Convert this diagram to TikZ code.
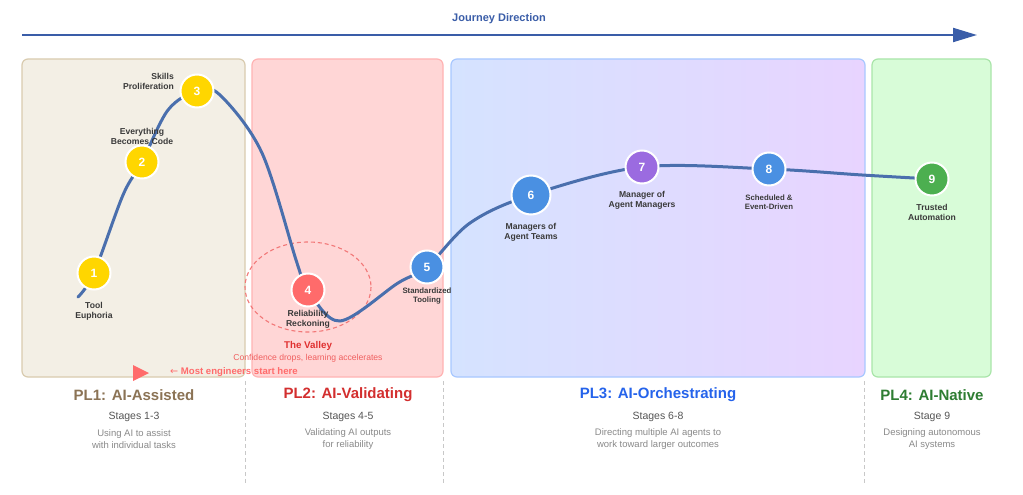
\documentclass[tikz,border=0pt]{standalone}
\usepackage{fontspec}
\setmainfont{Liberation Sans}
\newfontfamily\arrowfont{DejaVu Sans}
\usetikzlibrary{arrows.meta}

\definecolor{journeyblue}{HTML}{3A5DA8}
\definecolor{curveblue}{HTML}{4A6FAD}
\definecolor{boxone}{HTML}{F3EFE5}
\definecolor{boxoneline}{HTML}{D9CBAF}
\definecolor{boxtwo}{HTML}{FFD6D6}
\definecolor{boxtwoline}{HTML}{FFB3B3}
\definecolor{boxthreeleft}{HTML}{D5E3FF}
\definecolor{boxthreeright}{HTML}{E8D4FF}
\definecolor{boxthreeline}{HTML}{A8C8FF}
\definecolor{boxfour}{HTML}{D8FCD8}
\definecolor{boxfourline}{HTML}{A9E5A9}
\definecolor{stageyellow}{HTML}{FFD600}
\definecolor{stagered}{HTML}{FF6B6B}
\definecolor{stageblue}{HTML}{4A90E2}
\definecolor{stagepurple}{HTML}{9B6BE0}
\definecolor{stagegreen}{HTML}{4CAF50}
\definecolor{labeltext}{HTML}{3A3A3A}
\definecolor{titleone}{HTML}{8B7355}
\definecolor{titletwo}{HTML}{D32F2F}
\definecolor{titlethree}{HTML}{2563EB}
\definecolor{titlefour}{HTML}{2E7D32}
\definecolor{rangetext}{HTML}{555555}
\definecolor{notetext}{HTML}{8A8A8A}
\definecolor{dividergray}{HTML}{C8C8C8}
\definecolor{valleyred}{HTML}{E03131}
\definecolor{valleynote}{HTML}{F06060}

\begin{document}
\begin{tikzpicture}[x=1pt,y=-1pt,
  stage/.style={circle,draw=white,line width=2pt,inner sep=0pt,minimum size=33pt,
    text=white,font=\fontsize{12}{14}\selectfont\bfseries},
  bigstage/.style={stage,minimum size=39pt},
  stagelabel/.style={align=center,text=labeltext,inner sep=0pt,
    font=\fontsize{8.6}{10}\selectfont\bfseries},
  smalllabel/.style={stagelabel,font=\fontsize{7.8}{9}\selectfont\bfseries},
  levelbox/.style={rounded corners=6pt,line width=1.2pt},
  leveltitle/.style={inner sep=0pt,font=\fontsize{15}{18}\selectfont\bfseries},
  stagerange/.style={inner sep=0pt,text=rangetext,font=\fontsize{10.5}{12}\selectfont},
  levelnote/.style={inner sep=0pt,align=center,text=notetext,
    font=\fontsize{9.5}{12.5}\selectfont},
  divider/.style={draw=dividergray,line width=1pt,dash pattern=on 4pt off 3pt},
  journey/.style={draw=curveblue,line width=3pt,line cap=round}]
\useasboundingbox[fill=white] (0,0) rectangle (1023,495);

\node[font=\fontsize{11}{13}\selectfont\bfseries,text=journeyblue,inner sep=0pt] (dirtitle) at (499,19) {Journey Direction};
\coordinate (dirstart) at (22,35);
\coordinate (dirend) at (977,35);
\draw[draw=journeyblue,line width=2pt,-{Triangle[length=24pt,width=14pt]}] (dirstart) -- (dirend);

\draw[levelbox,fill=boxone,draw=boxoneline] (22,59) rectangle (245,377);
\draw[levelbox,fill=boxtwo,draw=boxtwoline] (252,59) rectangle (443,377);
\shade[rounded corners=6pt,left color=boxthreeleft,right color=boxthreeright] (451,59) rectangle (865,377);
\draw[levelbox,draw=boxthreeline] (451,59) rectangle (865,377);
\draw[levelbox,fill=boxfour,draw=boxfourline] (872,59) rectangle (991,377);

\draw[divider] (245,381) -- (245,483);
\draw[divider] (443,381) -- (443,483);
\draw[divider] (864,381) -- (864,483);

\draw[draw=valleynote!85,line width=1.1pt,dash pattern=on 4pt off 3pt] (308,287) ellipse [x radius=63,y radius=45];

\coordinate (p1) at (94,273);
\coordinate (p2) at (142,162);
\coordinate (p3) at (197,91);
\coordinate (p4) at (308,290);
\coordinate (p5) at (427,267);
\coordinate (p6) at (531,195);
\coordinate (p7) at (642,167);
\coordinate (p8) at (769,169);
\coordinate (p9) at (932,179);
\coordinate (c0) at (78,297);
\draw[journey] plot[smooth,tension=.55] coordinates {(c0) (p1) (123,195) (p2) (168,110) (p3) (220,95)
  (262,153) (297,263) (p4) (340,321) (398,283) (p5) (470,223) (p6) (p7) (p8) (862,175) (p9)};

\node[stage,fill=stageyellow] (s1) at (p1) {1};
\node[stage,fill=stageyellow] (s2) at (p2) {2};
\node[stage,fill=stageyellow] (s3) at (p3) {3};
\node[stage,fill=stagered] (s4) at (p4) {4};
\node[stage,fill=stageblue] (s5) at (p5) {5};
\node[bigstage,fill=stageblue] (s6) at (p6) {6};
\node[stage,fill=stagepurple] (s7) at (p7) {7};
\node[stage,fill=stageblue] (s8) at (p8) {8};
\node[stage,fill=stagegreen] (s9) at (p9) {9};

\node[stagelabel] (l1) at (94,311) {Tool\\Euphoria};
\node[stagelabel] (l2) at (142,136.5) {Everything\\Becomes Code};
\node[stagelabel,align=right,anchor=east] (l3) at (174,81) {Skills\\Proliferation};
\node[stagelabel] (l4) at (308,319) {Reliability\\Reckoning};
\node[smalllabel] (l5) at (427,295.5) {Standardized\\Tooling};
\node[stagelabel] (l6) at (531,232) {Managers of\\Agent Teams};
\node[stagelabel] (l7) at (642,200) {Manager of\\Agent Managers};
\node[smalllabel] (l8) at (769,202.5) {Scheduled \&\\Event-Driven};
\node[stagelabel] (l9) at (932,212) {Trusted\\Automation};

\node[inner sep=0pt,text=valleyred,font=\fontsize{9.8}{12}\selectfont\bfseries] (valley) at (308,346) {The Valley};
\node[inner sep=0pt,text=valleynote,font=\fontsize{8.6}{10}\selectfont] (valleynote) at (308,358) {Confidence drops, learning accelerates};
\node[inner sep=0pt,text=stagered,font=\fontsize{9.6}{11}\selectfont\bfseries,anchor=west] (startnote) at (170,372)
  {{\arrowfont\mdseries\fontsize{9.6}{11}\selectfont ←} Most engineers start here};
\coordinate (tipa) at (133,365);
\coordinate (tipb) at (133,381);
\coordinate (tipc) at (149,373);
\fill[stagered] (tipa) -- (tipc) -- (tipb) -- cycle;

\node[leveltitle,text=titleone] (pl1) at (134,395) {PL1: AI-Assisted};
\node[stagerange] (r1) at (134,417) {Stages 1-3};
\node[levelnote] (n1) at (134,439) {Using AI to assist\\with individual tasks};
\node[leveltitle,text=titletwo] (pl2) at (348,395) {PL2: AI-Validating};
\node[stagerange] (r2) at (348,417) {Stages 4-5};
\node[levelnote] (n2) at (348,439) {Validating AI outputs\\for reliability};
\node[leveltitle,text=titlethree] (pl3) at (658,395) {PL3: AI-Orchestrating};
\node[stagerange] (r3) at (658,417) {Stages 6-8};
\node[levelnote] (n3) at (658,439) {Directing multiple AI agents to\\work toward larger outcomes};
\node[leveltitle,text=titlefour] (pl4) at (932,395) {PL4: AI-Native};
\node[stagerange] (r4) at (932,417) {Stage 9};
\node[levelnote] (n4) at (932,439) {Designing autonomous\\AI systems};
\end{tikzpicture}
\end{document}
